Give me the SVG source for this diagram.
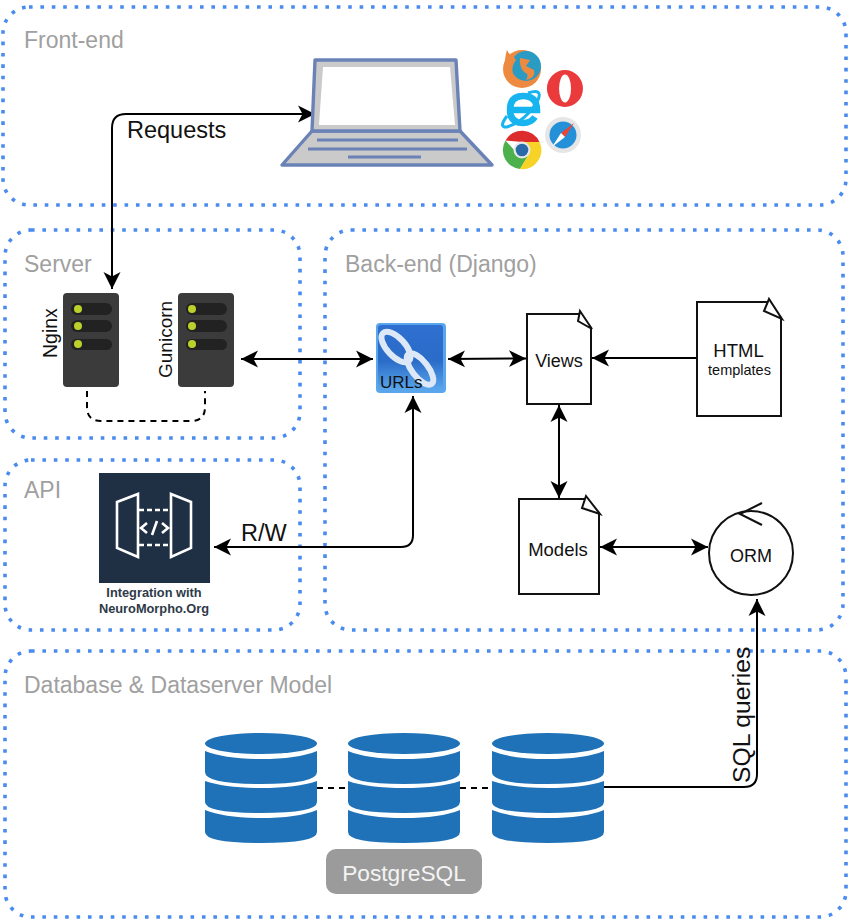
<svg xmlns="http://www.w3.org/2000/svg" width="850" height="921" viewBox="0 0 850 921">
<style>
text{font-family:"Liberation Sans",Arial,sans-serif;fill:#111}
.zone{fill:none;stroke:#4a8bf0;stroke-width:3.6;stroke-dasharray:3.6 7.8}
.zl{font-size:23px;fill:#a0a0a0}
.c{fill:none;stroke:#000;stroke-width:2}
.d{fill:none;stroke:#000;stroke-width:2;stroke-dasharray:6 5}
.doc{fill:#fff;stroke:#111;stroke-width:2}
.m{text-anchor:middle}
.srv{fill:#3b3b3b}.slot{fill:#222}.led{fill:#bcd02c}
.db{fill:#1f72b8}
.lap{stroke:#6a82b6;stroke-width:3.4;stroke-linejoin:round;fill:#cacaca}
.key{stroke:#6a82b6;stroke-width:3.2;stroke-linecap:butt}
.w{fill:none;stroke:#fff;stroke-width:2.6}
</style>
<defs>
<marker id="a" markerUnits="userSpaceOnUse" markerWidth="18" markerHeight="18" refX="17" refY="8.500" orient="auto-start-reverse" viewBox="0 0 18 17"><path d="M0 0L17 8.500L0 17L4.500 8.500Z" fill="#000"/></marker>
<linearGradient id="ug" x1="0" y1="0" x2="0" y2="1"><stop offset="0" stop-color="#2f6fd0"/><stop offset=".55" stop-color="#2a6cc8"/><stop offset="1" stop-color="#5aa6ec"/></linearGradient>
</defs>

<g id="zones">
<rect class="zone" x="3" y="7" width="843" height="198" rx="26"/>
<rect class="zone" x="5" y="230" width="295" height="208" rx="26"/>
<rect class="zone" x="5" y="460" width="295" height="170" rx="26"/>
<rect class="zone" x="325" y="230" width="518" height="400" rx="26"/>
<rect class="zone" x="5" y="651" width="841" height="266" rx="26"/>
<text class="zl" x="24" y="48">Front-end</text>
<text class="zl" x="24" y="272">Server</text>
<text class="zl" x="24" y="498">API</text>
<text class="zl" x="345" y="272">Back-end (Django)</text>
<text class="zl" x="24" y="693">Database &amp; Dataserver Model</text>
</g>

<g id="connectors">
<path class="c" d="M315 114H126Q112 114 112 128V289" marker-start="url(#a)" marker-end="url(#a)"/>
<path class="c" d="M241 359H373" marker-start="url(#a)" marker-end="url(#a)"/>
<path class="c" d="M448 359L526 358.500" marker-start="url(#a)" marker-end="url(#a)"/>
<path class="c" d="M697 358H592" marker-end="url(#a)"/>
<path class="c" d="M559 405V498" marker-start="url(#a)" marker-end="url(#a)"/>
<path class="c" d="M600 547H708" marker-start="url(#a)" marker-end="url(#a)"/>
<path class="c" d="M413 396V535Q413 547 401 547H214" marker-start="url(#a)" marker-end="url(#a)"/>
<path class="c" d="M604 787H744Q757 787 757 774V599" marker-end="url(#a)"/>
<path class="d" d="M87 391V407Q87 421 101 421H191Q205 421 205 407V391"/>
<path class="d" d="M317 788H348M460 788H492"/>
<text x="127" y="138" font-size="23.500">Requests</text>
<text x="241" y="541" font-size="23.500">R/W</text>
<text transform="translate(750 783) rotate(-90)" font-size="24.700">SQL queries</text>
</g>

<g id="laptop">
<path class="lap" d="M312 131L282 165H492L460 131Z"/>
<path class="lap" d="M315 60H456L460 131H312Z"/>
<path fill="#fff" d="M323 67H450L455 125H319Z"/>
<path class="key" d="M317 140H458M308 149H467M348 157H421"/>
</g>

<g id="browsers">
<g id="firefox">
<circle cx="522" cy="69" r="19" fill="#ee8a40"/>
<circle cx="526" cy="66" r="15" fill="#2a9cc4"/>
<path d="M505 60Q506 52 507 50Q510 56 513 56L516 60Q511 66 513 74Q518 84 530 83Q516 90 508 78Q504 70 505 60Z" fill="#ee8a40"/>
<path d="M520 58L530 60L526 66L534 70Q536 78 526 80Q530 74 524 72Q519 66 520 58Z" fill="#ee8a40"/>
</g>
<g id="opera"><path fill="#ea3a3c" fill-rule="evenodd" d="M565 70A18 18.500 0 1 1 564.900 107A18 18.500 0 1 1 565 70ZM565 74.500A6 14 0 1 0 565.100 102.500A6 14 0 1 0 565 74.500Z"/></g>
<g id="ie">
<path d="M510 110H537Q537 96 523 96Q510 96 510 110Q510 123 523 123Q531 123 535 117" fill="none" stroke="#18b4f0" stroke-width="6.500"/>
<path d="M507 116Q498 128 507 127Q526 121 538 100Q543 88 528 93" fill="none" stroke="#18b4f0" stroke-width="3"/>
</g>
<g id="safari">
<circle cx="563" cy="135" r="18" fill="#e6e6e6"/>
<circle cx="563" cy="135" r="13.500" fill="#2390d8"/>
<path d="M574 123L565 137L561 133Z" fill="#ee4433"/>
<path d="M552 147L561 133L565 137Z" fill="#fff"/>
</g>
<g id="chrome">
<path d="M505.500 140.500A19 19 0 0 1 539.500 142L522 142Z" fill="#dd2c2c"/>
<path d="M505.500 140.500A19 19 0 0 0 520 169L528 156L516 152Z" fill="#4cb04c"/>
<path d="M539.500 142A19 19 0 0 1 520 169L530 152L522 142Z" fill="#f6d326"/>
<circle cx="522" cy="150" r="8.500" fill="#e8e8e8"/>
<circle cx="522" cy="150" r="6.300" fill="#2a6aa8"/>
</g>
</g>

<g id="nginx">
<rect class="srv" x="63" y="293" width="56" height="94" rx="4"/>
<rect class="slot" x="71" y="303" width="41" height="12" rx="6"/>
<rect class="slot" x="71" y="320" width="41" height="12" rx="6"/>
<rect class="slot" x="71" y="339" width="41" height="11" rx="5.500"/>
<circle class="led" cx="78" cy="309" r="4"/><circle class="led" cx="78" cy="326" r="4"/><circle class="led" cx="78" cy="344" r="4"/>
<text transform="translate(57 358) rotate(-90)" font-size="19.500">Nginx</text>
</g>
<g id="gunicorn">
<rect class="srv" x="178" y="293" width="56" height="94" rx="4"/>
<rect class="slot" x="186" y="303" width="41" height="12" rx="6"/>
<rect class="slot" x="186" y="320" width="41" height="12" rx="6"/>
<rect class="slot" x="186" y="339" width="41" height="11" rx="5.500"/>
<circle class="led" cx="192" cy="309" r="4"/><circle class="led" cx="192" cy="326" r="4"/><circle class="led" cx="192" cy="344" r="4"/>
<text transform="translate(172 378) rotate(-90)" font-size="19">Gunicorn</text>
</g>

<g id="urls">
<rect x="376" y="323" width="70" height="70" rx="4" fill="#5aa6ec"/>
<rect x="378" y="325" width="65" height="65" rx="3" fill="url(#ug)"/>
<ellipse cx="396" cy="347" rx="19" ry="9" transform="rotate(47 396 347)" fill="none" stroke="#dce8f8" stroke-width="6"/>
<ellipse cx="420" cy="369" rx="19" ry="8" transform="rotate(52 420 369)" fill="none" stroke="#dce8f8" stroke-width="6"/>
<text x="380" y="388" font-size="17">URLs</text>
</g>

<g id="views">
<path class="doc" d="M527 314H580L591 328V404H527Z"/>
<path class="doc" d="M580 311L578 321L592 329Z"/>
<text class="m" x="559" y="367" font-size="18">Views</text>
</g>
<g id="html-templates">
<path class="doc" d="M697 302H769L781 318V416H697Z"/>
<path class="doc" d="M769 299L764 311L782 319Z"/>
<text class="m" x="738.500" y="357" font-size="18.500">HTML</text>
<text class="m" x="739.500" y="375" font-size="14.500">templates</text>
</g>
<g id="models">
<path class="doc" d="M519 499H586L599 513V594H519Z"/>
<path class="doc" d="M586 496L582 508L600 514Z"/>
<text class="m" x="558" y="556" font-size="18.500">Models</text>
</g>
<g id="orm">
<circle cx="751" cy="553" r="42" fill="#fff" stroke="#111" stroke-width="2"/>
<path d="M762 503L740 514L762 525" fill="none" stroke="#111" stroke-width="2"/>
<text class="m" x="751" y="562" font-size="18">ORM</text>
</g>

<g id="api">
<rect x="99" y="473" width="111" height="110" fill="#1f2f44"/>
<path class="w" d="M117 502L138 494V557L117 548Z"/>
<path class="w" d="M171 494L191 502V548L171 557Z"/>
<path class="w" stroke-dasharray="5 3" d="M139 510H170M139 545H170"/>
<path class="w" d="M147 523L141 528L147 533M162 523L168 528L162 533M157 521L152 535"/>
<text class="m" x="154" y="597" font-size="12.800" font-weight="bold" style="fill:#2e3a48">Integration with</text>
<text class="m" x="154" y="613" font-size="12.800" font-weight="bold" style="fill:#2e3a48">NeuroMorpho.Org</text>
</g>

<g id="db1">
<ellipse class="db" cx="261" cy="743.500" rx="56" ry="10.500"/>
<path class="db" d="M205 751Q225 759 261 759T317 751V772Q317 784 261 784T205 772Z"/>
<path class="db" d="M205 781Q225 788 261 788T317 781V802Q317 813 261 813T205 802Z"/>
<path class="db" d="M205 810Q225 818 261 818T317 810V832Q317 843 261 843T205 832Z"/>
</g>
<g id="db2">
<ellipse class="db" cx="404" cy="743.500" rx="56" ry="10.500"/>
<path class="db" d="M348 751Q368 759 404 759T460 751V772Q460 784 404 784T348 772Z"/>
<path class="db" d="M348 781Q368 788 404 788T460 781V802Q460 813 404 813T348 802Z"/>
<path class="db" d="M348 810Q368 818 404 818T460 810V832Q460 843 404 843T348 832Z"/>
</g>
<g id="db3">
<ellipse class="db" cx="548" cy="743.500" rx="56" ry="10.500"/>
<path class="db" d="M492 751Q512 759 548 759T604 751V772Q604 784 548 784T492 772Z"/>
<path class="db" d="M492 781Q512 788 548 788T604 781V802Q604 813 548 813T492 802Z"/>
<path class="db" d="M492 810Q512 818 548 818T604 810V832Q604 843 548 843T492 832Z"/>
</g>
<g id="postgresql">
<rect x="326" y="849" width="156" height="45" rx="10" fill="#9b9b9b"/>
<text class="m" x="404" y="881" font-size="22.700" style="fill:#f4f4f4">PostgreSQL</text>
</g>
</svg>
